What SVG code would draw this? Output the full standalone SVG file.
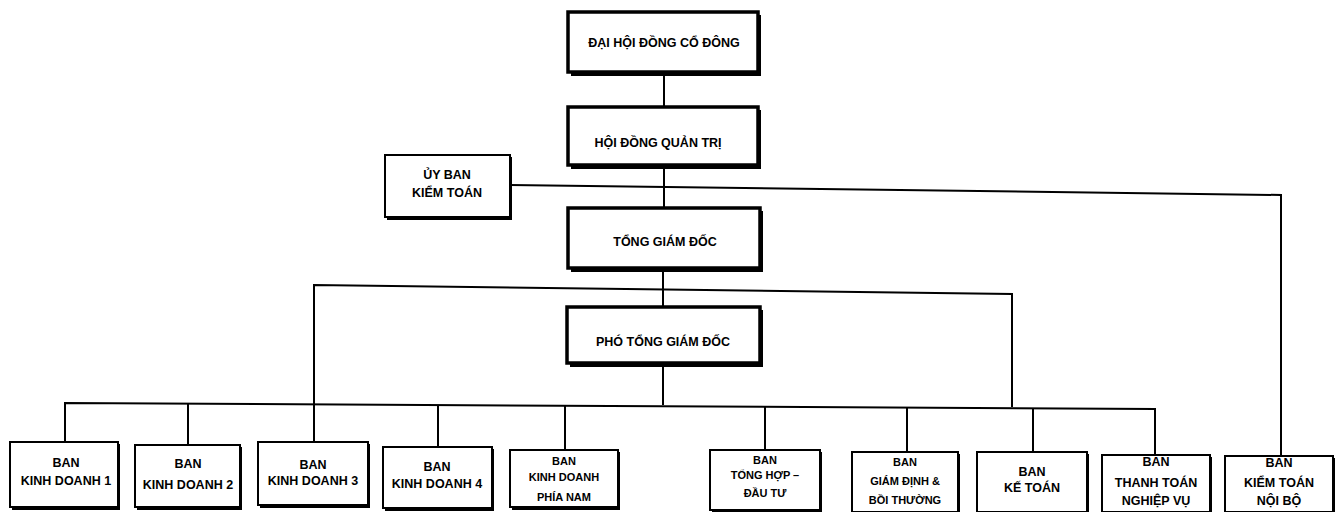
<svg xmlns="http://www.w3.org/2000/svg" width="1339" height="512" viewBox="0 0 1339 512">
<style>
.bx{fill:#fff;stroke:#000;stroke-width:2}
.bxt{fill:#fff;stroke:#000;stroke-width:3.5}
.sh{fill:#000}
.t{font-family:"Liberation Sans",Arial,sans-serif;font-weight:bold;font-size:12.5px;fill:#000;text-anchor:middle}
.ts{font-size:11px}
.c{fill:none;stroke:#000;stroke-width:2}
</style>
<rect width="1339" height="512" fill="#fff"/>
<g id="connectors">
<line class="c" x1="664" y1="72" x2="664" y2="107"/>
<line class="c" x1="664" y1="165" x2="664" y2="208"/>
<polyline class="c" points="510,185 1281,195 1281,456"/>
<line class="c" x1="663" y1="268" x2="663" y2="307"/>
<polyline class="c" points="314,442 314,285 1012,294 1012,407"/>
<line class="c" x1="663" y1="363" x2="663" y2="405"/>
<polyline class="c" points="65,442 65,403 1155,409 1155,455"/>
<line class="c" x1="188" y1="404" x2="188" y2="445"/>
<line class="c" x1="438" y1="405" x2="438" y2="447"/>
<line class="c" x1="565" y1="406" x2="565" y2="450"/>
<line class="c" x1="765" y1="407" x2="765" y2="450"/>
<line class="c" x1="907" y1="408" x2="907" y2="452"/>
<line class="c" x1="1033" y1="408" x2="1033" y2="452"/>
</g>
<g id="dai-hoi-dong-co-dong">
<rect class="sh" x="571" y="15" width="190" height="61"/>
<rect class="bxt" x="568" y="12" width="190" height="60"/>
<text class="t" x="664" y="47">ĐẠI HỘI ĐỒNG CỔ ĐÔNG</text>
</g>
<g id="hoi-dong-quan-tri">
<rect class="sh" x="571" y="110" width="190" height="59"/>
<rect class="bxt" x="568" y="107" width="190" height="58"/>
<text class="t" x="658" y="147">HỘI ĐỒNG QUẢN TRỊ</text>
</g>
<g id="uy-ban-kiem-toan">
<rect class="sh" x="387" y="157" width="125" height="63"/>
<rect class="bx" x="385" y="155" width="125" height="62"/>
<text class="t" x="447" y="179">ỦY BAN</text>
<text class="t" x="447" y="197">KIỂM TOÁN</text>
</g>
<g id="tong-giam-doc">
<rect class="sh" x="571" y="211" width="192" height="61"/>
<rect class="bxt" x="568" y="208" width="192" height="60"/>
<text class="t" x="665" y="246">TỔNG GIÁM ĐỐC</text>
</g>
<g id="pho-tong-giam-doc">
<rect class="sh" x="570" y="310" width="193" height="57"/>
<rect class="bxt" x="567" y="307" width="193" height="56"/>
<text class="t" x="663" y="346">PHÓ TỔNG GIÁM ĐỐC</text>
</g>
<g id="ban-kinh-doanh-1">
<rect class="sh" x="12" y="444" width="108" height="66"/>
<rect class="bx" x="10" y="442" width="108" height="65"/>
<text class="t" x="66" y="467">BAN</text>
<text class="t" x="66" y="485">KINH DOANH 1</text>
</g>
<g id="ban-kinh-doanh-2">
<rect class="sh" x="137" y="447" width="105" height="63"/>
<rect class="bx" x="135" y="445" width="105" height="62"/>
<text class="t" x="188" y="468">BAN</text>
<text class="t" x="188" y="489">KINH DOANH 2</text>
</g>
<g id="ban-kinh-doanh-3">
<rect class="sh" x="260" y="444" width="110" height="64"/>
<rect class="bx" x="258" y="442" width="110" height="63"/>
<text class="t" x="313" y="469">BAN</text>
<text class="t" x="313" y="485">KINH DOANH 3</text>
</g>
<g id="ban-kinh-doanh-4">
<rect class="sh" x="385" y="449" width="109" height="62"/>
<rect class="bx" x="383" y="447" width="109" height="61"/>
<text class="t" x="437" y="471">BAN</text>
<text class="t" x="437" y="488">KINH DOANH 4</text>
</g>
<g id="ban-kinh-doanh-phia-nam">
<rect class="sh" x="512" y="452" width="108" height="58"/>
<rect class="bx" x="510" y="450" width="108" height="57"/>
<text class="t ts" x="564" y="465">BAN</text>
<text class="t ts" x="564" y="481">KINH DOANH</text>
<text class="t ts" x="564" y="501">PHÍA NAM</text>
</g>
<g id="ban-tong-hop-dau-tu">
<rect class="sh" x="712" y="452" width="110" height="61"/>
<rect class="bx" x="710" y="450" width="110" height="60"/>
<text class="t ts" x="765" y="464">BAN</text>
<text class="t ts" x="765" y="479">TỔNG HỢP –</text>
<text class="t ts" x="765" y="497">ĐẦU TƯ</text>
</g>
<g id="ban-giam-dinh-boi-thuong">
<rect class="sh" x="854" y="454" width="106" height="61"/>
<rect class="bx" x="852" y="452" width="106" height="60"/>
<text class="t ts" x="905" y="466">BAN</text>
<text class="t ts" x="905" y="485">GIÁM ĐỊNH &amp;</text>
<text class="t ts" x="905" y="504">BỒI THƯỜNG</text>
</g>
<g id="ban-ke-toan">
<rect class="sh" x="979" y="454" width="110" height="61"/>
<rect class="bx" x="977" y="452" width="110" height="60"/>
<text class="t" x="1032" y="476">BAN</text>
<text class="t" x="1032" y="492">KẾ TOÁN</text>
</g>
<g id="ban-thanh-toan-nghiep-vu">
<rect class="sh" x="1104" y="457" width="108" height="58"/>
<rect class="bx" x="1102" y="455" width="108" height="57"/>
<text class="t" x="1156" y="466">BAN</text>
<text class="t" x="1156" y="487">THANH TOÁN</text>
<text class="t" x="1156" y="505">NGHIỆP VỤ</text>
</g>
<g id="ban-kiem-toan-noi-bo">
<rect class="sh" x="1227" y="458" width="108" height="57"/>
<rect class="bx" x="1225" y="456" width="108" height="56"/>
<text class="t" x="1279" y="467">BAN</text>
<text class="t" x="1279" y="487">KIỂM TOÁN</text>
<text class="t" x="1279" y="505">NỘI BỘ</text>
</g>
</svg>
